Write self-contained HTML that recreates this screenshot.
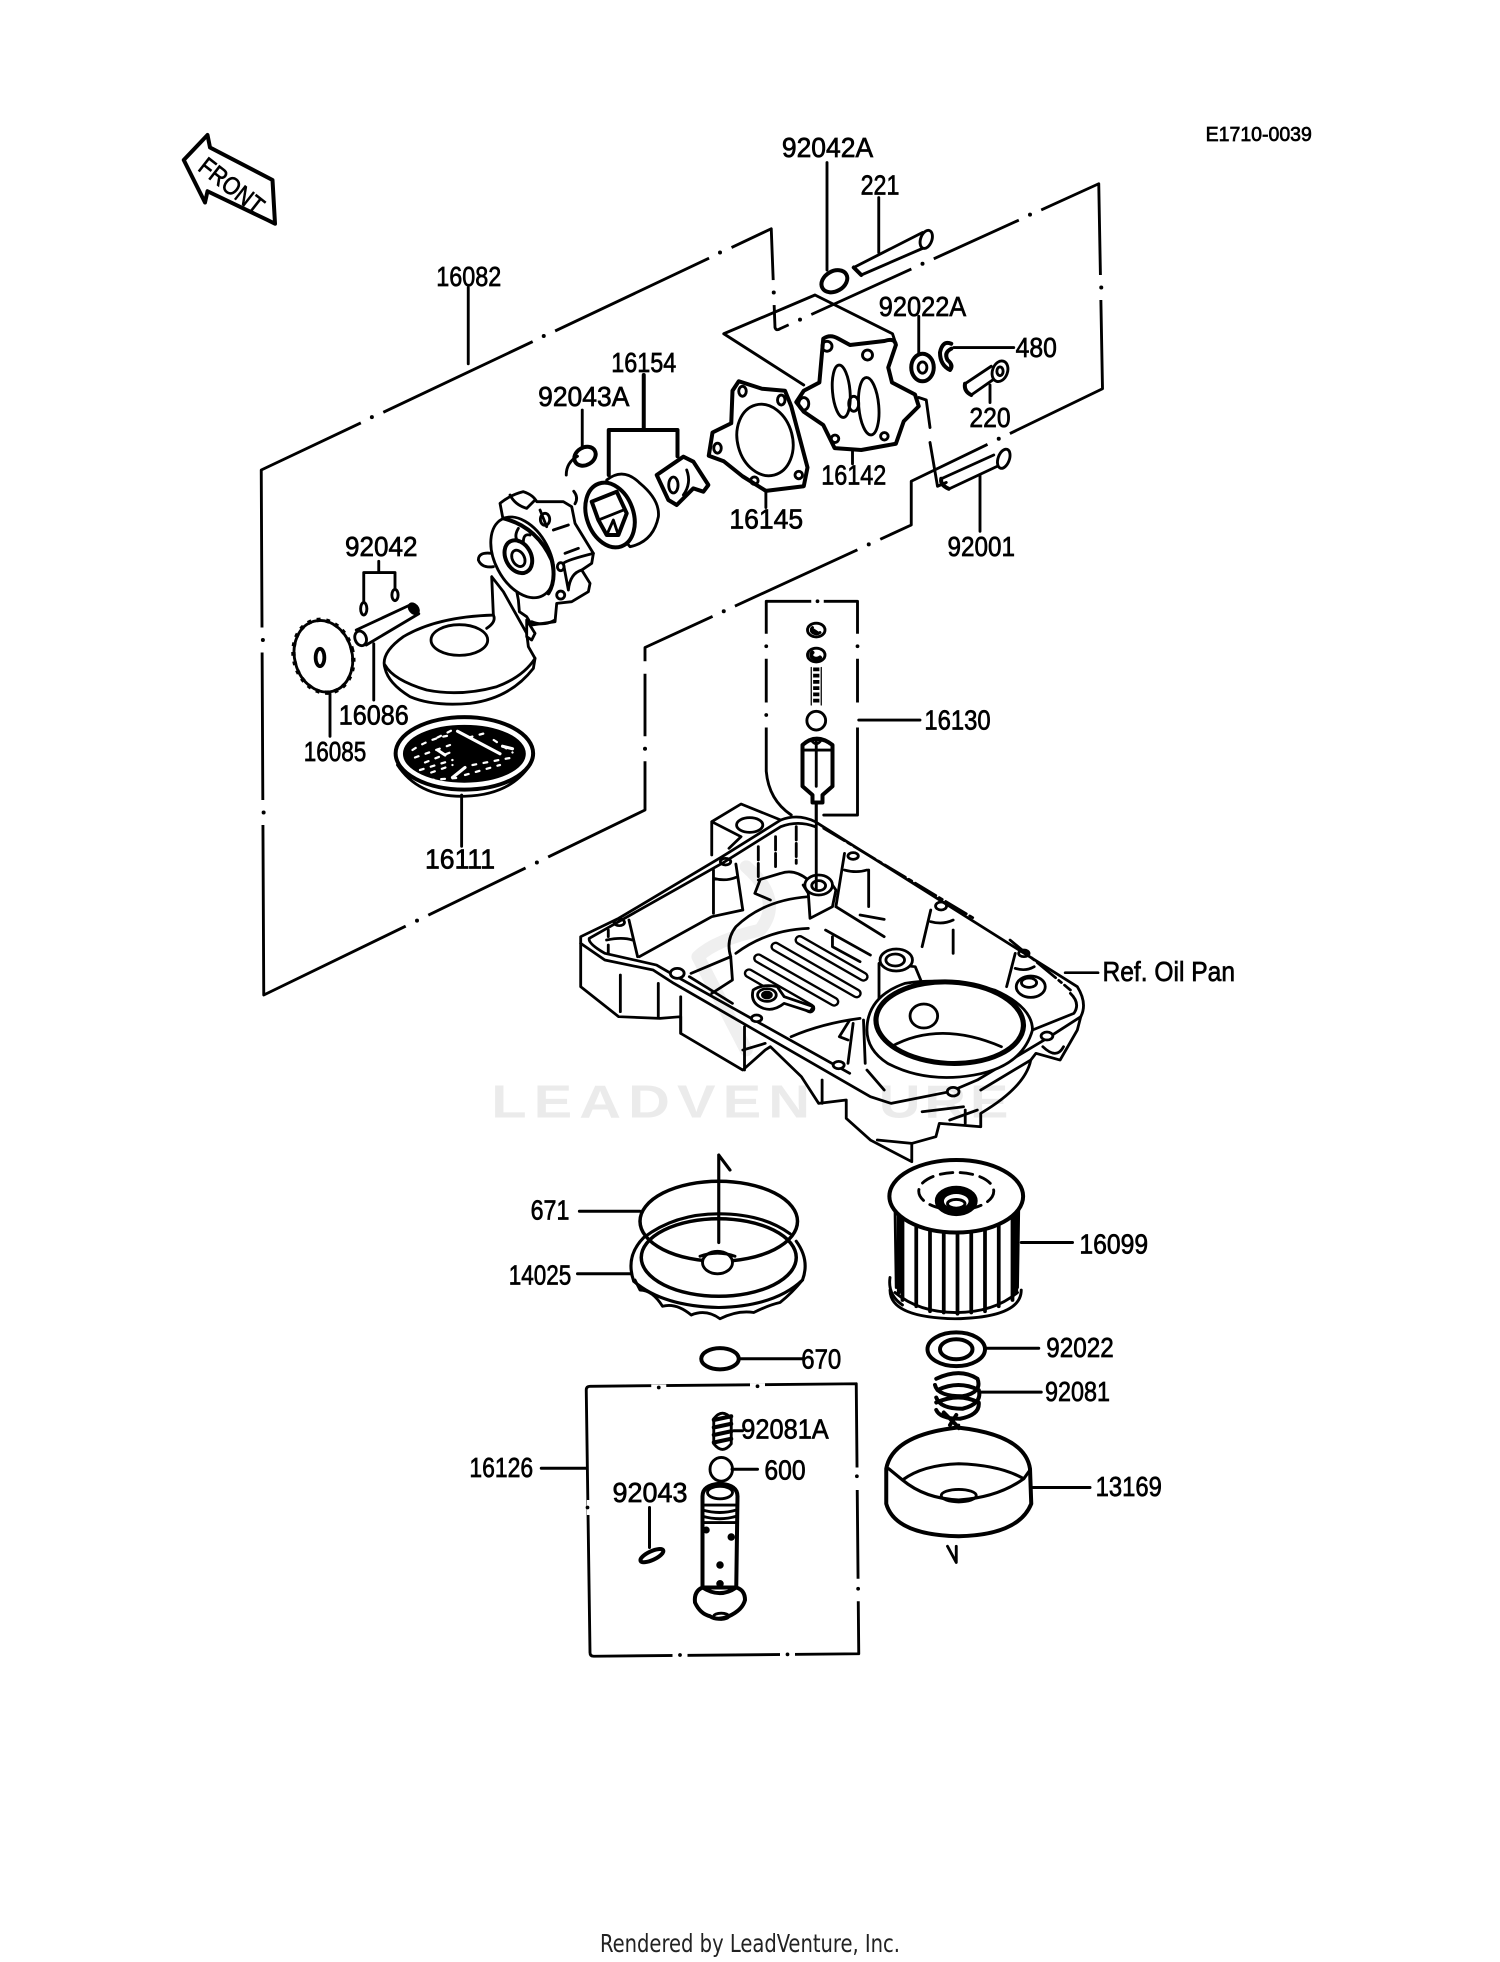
<!DOCTYPE html>
<html><head><meta charset="utf-8"><title>Oil Pump Diagram</title>
<style>
html,body{margin:0;padding:0;background:#fff;width:1500px;height:1962px;overflow:hidden}
svg{display:block}
path,line,ellipse,circle,polyline,polygon{fill:none;stroke:#000;stroke-width:2.3;stroke-linecap:round;stroke-linejoin:round}
.f{fill:#fff}
.k{fill:#000}
.t{stroke-width:3.2}
.w{stroke:#fff;stroke-width:5;stroke-linecap:butt}
.d{fill:#000;stroke:none}
text{font-family:"Liberation Sans",sans-serif;font-size:22px;fill:#000;stroke:#000;stroke-width:.55;text-anchor:middle;dominant-baseline:central}
.pan path,.pan ellipse,.pan line{stroke-width:8.2}
.pan .t{stroke-width:15}
.slot{stroke-width:30!important}
.sloti{stroke:#fff;stroke-width:16!important}
.z path,.z ellipse{stroke-width:8.5}
.z .t{stroke-width:12}
.wm{font-weight:bold;font-size:37px;fill:#ebebeb;stroke:none;mix-blend-mode:multiply;text-anchor:start;dominant-baseline:auto}
.ft{font-family:"DejaVu Sans Condensed","DejaVu Sans",sans-serif;font-size:20px;fill:#222;stroke:none;text-anchor:start;dominant-baseline:auto}
</style></head><body>
<svg xmlns="http://www.w3.org/2000/svg" width="1500" height="1962" viewBox="0 0 1200 1569.6">
<rect width="1200" height="1569.6" fill="#fff"/>

<!-- frame -->
<path d="M211,796 L209,376 L617,183 L620,262 Q621,265 624,263 L879,147 L882,311 L729,385 L729,420 L516,518 L516,648 Z"/>
<path class="w" d="M288.500,338 L306.500,329.500 M426,273 L444,264.500 M567,206 L585,197.500"/>
<circle class="d" cx="297.500" cy="333.700" r="1.600"/><circle class="d" cx="435" cy="268.800" r="1.600"/><circle class="d" cx="576" cy="202" r="1.600"/>
<path class="w" d="M631,260 L649,251.500 M729,215 L747,207 M815,176 L833,168"/>
<circle class="d" cx="640" cy="255.700" r="1.600"/><circle class="d" cx="738" cy="211" r="1.600"/><circle class="d" cx="824" cy="171.700" r="1.600"/>
<path class="w" d="M881,220 L881,240 M618.800,224 L619.200,244 M516,589 L516,609 M516,539 L516,529"/>
<circle class="d" cx="881" cy="230" r="1.600"/><circle class="d" cx="619" cy="234" r="1.600"/><circle class="d" cx="516" cy="599" r="1.600"/>
<path class="w" d="M790,355.500 L808,347 M686,440 L704,431 M570,493 L588,485"/>
<circle class="d" cx="799" cy="351" r="1.600"/><circle class="d" cx="695" cy="435.500" r="1.600"/><circle class="d" cx="579" cy="489" r="1.600"/>
<path class="w" d="M420.500,694.500 L438.500,685.500 M324.600,741 L342.600,732"/>
<circle class="d" cx="429.500" cy="690" r="1.600"/><circle class="d" cx="333.600" cy="736.500" r="1.600"/>
<path class="w" d="M210.300,502 L210.300,522 M210.900,640 L210.900,660"/>
<circle class="d" cx="210.300" cy="512" r="1.600"/><circle class="d" cx="210.900" cy="650" r="1.600"/>

<!-- box 16130 -->
<path d="M613,481 L686,481 L686,652 L659,652 M613,481 L613,617 Q615,640 633,652"/>
<path class="w" d="M613,507 L613,527 M613,562 L613,582 M686,507 L686,527 M686,562 L686,582 M649,481 L659,481"/>
<circle class="d" cx="613" cy="517" r="1.500"/><circle class="d" cx="613" cy="572" r="1.500"/><circle class="d" cx="686" cy="517" r="1.500"/><circle class="d" cx="654" cy="481" r="1.500"/>

<!-- box 16126 -->
<path d="M469,1112 Q469,1109 472,1109 L685,1107 L687,1323 L475,1325 Q472,1325 472,1322 Z"/>
<path class="w" d="M521,1110 L533,1110 M600,1109 L612,1109 M685.500,1174 L685.500,1192 M686.500,1263 L686.500,1281 M472,1200 L472,1212 M538,1324 L550,1324 M624,1323.500 L636,1323.500"/>
<circle class="d" cx="527" cy="1110" r="1.500"/><circle class="d" cx="606" cy="1109" r="1.500"/><circle class="d" cx="685.500" cy="1181" r="1.500"/><circle class="d" cx="686.500" cy="1271" r="1.500"/><circle class="d" cx="470" cy="1206" r="1.500"/><circle class="d" cx="544" cy="1324" r="1.500"/><circle class="d" cx="630" cy="1323.500" r="1.500"/>

<!-- FRONT arrow -->
<path class="t" d="M147,128 L166,108 L168,118 L218,144 L220,179 L214,176 L166,153 L164,162 Z"/>
<text transform="translate(185,149) rotate(38)" style="font-size:20px" textLength="60" lengthAdjust="spacingAndGlyphs">FRONT</text>

<!-- leaders top -->
<path d="M661.600,130 L661.600,216 M703,158 L703,202 M374.600,230 L374.600,291 M735,253 L735,283 M763,278 L811,278 M792,308 L792,322 M682,357 L682,371 M612.700,394 L612.700,406 M784,380 L784,425 M465.800,328 L465.800,358 M299,515 L299,560 M264,555 L264,589 M369.300,636 L369.300,677 M687,576 L736,576"/>
<path class="t" d="M515,300 L515,343 M487,344 L542,344 M487,344 L487,380 M542,344 L542,365"/>
<path d="M303,449 L303,458 M291,458 L316,458 M291,458 L291,481 M316,458 L316,471"/>
<ellipse cx="291" cy="487" rx="2.500" ry="5"/><ellipse cx="316" cy="476" rx="2.500" ry="4.500"/>

<!-- bolt 221 and dowel -->
<path d="M683,214 L738,186 M689,220 L742,197"/>
<ellipse class="f" cx="741" cy="191.500" rx="4.500" ry="7.500" transform="rotate(20 741 191.500)"/>
<ellipse class="f t" cx="667.500" cy="225" rx="11" ry="8" transform="rotate(-30 667.500 225)"/>
<path class="t" d="M683,214 L689,220"/>

<!-- diamond -->
<path d="M643,308 L579,267 L652,236 L714,267 L717,276"/>
<path d="M735,318 L741,320 L744,342 M744,354 L750,389 L757,386"/>

<!-- cover 16142 -->
<path class="f t" d="M658.600,271 Q664,267 670.800,271 L680,276 L707.500,272.800 Q716,270 716.700,276 L710.600,294 L713.600,306 L732,315.600 L735,325 L723,337 L716.700,355 L689,360 L667.700,358.500 L658.600,340 L643,329.400 L637,321.700 L643,312.600 L655.500,306 Z"/>
<ellipse cx="673" cy="313" rx="7" ry="21" transform="rotate(-5 673 313)"/>
<ellipse cx="695" cy="325" rx="8" ry="23" transform="rotate(-5 695 325)"/>
<ellipse cx="683" cy="323" rx="4" ry="6"/>
<ellipse cx="661.600" cy="277" rx="4" ry="4"/><ellipse cx="694" cy="284" rx="4" ry="4"/><ellipse cx="643" cy="323" rx="4" ry="5"/><ellipse cx="668" cy="351" rx="3" ry="3"/><ellipse cx="707.500" cy="349" rx="3" ry="3"/>

<!-- gasket 16145 -->
<path class="f t" d="M591,305 L609.600,311 L628,312.600 L633,325 L646,374 L643,389 L612.700,392.700 L594,381 L579,369 L567,364.600 L570,346 L585,338.600 L586,312.600 Z"/>
<ellipse cx="612" cy="352" rx="22" ry="29" transform="rotate(-15 612 352)"/>
<ellipse cx="594" cy="313" rx="3" ry="4"/><ellipse cx="625" cy="320" rx="3" ry="4"/><ellipse cx="574" cy="358.500" rx="3" ry="4"/><ellipse cx="603.500" cy="384.500" rx="3" ry="3"/><ellipse cx="639" cy="380" rx="3" ry="3"/>

<!-- washer, clip, bolts -->
<ellipse class="t" cx="738" cy="294" rx="9" ry="11"/><ellipse cx="738" cy="294" rx="3.500" ry="4.500"/>
<path class="t" d="M761,275 Q754,272 752,282 Q752,292 760,296 Q763,292 758,288 Q755,282 761,279"/>
<path d="M772,307 L793,293 M777,316 L797,302"/><ellipse class="f" cx="800" cy="297" rx="6" ry="8.500" transform="rotate(20 800 297)"/><ellipse cx="800" cy="297" rx="2.500" ry="3.500"/><path class="t" d="M772,307 Q771,313 777,316"/>
<path d="M753,383 L795,364 M759.500,391 L800,372"/><ellipse class="f" cx="803" cy="367" rx="4.500" ry="8" transform="rotate(20 803 367)"/><path class="t" d="M753,383 Q752,388 759,391"/>

<!-- oil pickup, pump, rotor drawn in zoomed coords -->
<g class="z" transform="translate(216,336) scale(.2667)">
<!-- pickup -->
<path class="f" d="M665,470 L670,585 Q500,590 400,650 Q330,700 345,745 Q355,790 420,830 Q490,860 600,850 Q720,835 790,745 L795,715 L775,680 L770,640 L700,515 Z"/>
<path d="M345,735 Q370,780 470,810 Q570,830 680,800 Q760,770 795,715"/>
<path d="M670,585 Q680,605 650,625"/>
<ellipse class="f" cx="568" cy="660" rx="85" ry="46"/>
<path class="f" d="M770,600 L795,640 L785,660 L770,650 Z"/>
<!-- lug -->
<path class="f" d="M665,400 Q625,395 625,420 Q635,445 670,440"/>
<!-- body -->
<path class="f" d="M690,250 Q720,225 760,215 Q790,225 800,245 L880,245 L905,260 L915,310 L970,400 L965,430 L935,450 L960,490 L955,515 L905,545 L860,550 L855,605 L785,615 L770,590 L748,575 L745,540 Z"/>
<path d="M720,225 Q735,255 770,265 L795,240 M810,270 L830,320 M850,330 L895,315 M885,400 L925,385 M880,430 Q890,420 970,400 M895,510 Q900,460 935,450 M880,430 L895,510 M785,605 Q820,620 855,600"/>
<ellipse cx="825" cy="298" rx="14" ry="18"/><ellipse cx="872" cy="525" rx="12" ry="12"/><ellipse cx="872" cy="440" rx="10" ry="12"/>
<!-- plate -->
<ellipse class="f" cx="757" cy="412" rx="82" ry="130" transform="rotate(-28 757 412)"/>
<path class="t" d="M700,295 Q800,320 845,420 Q860,480 835,520"/>
<ellipse class="f t" cx="745" cy="410" rx="38" ry="52" transform="rotate(-28 745 410)"/>
<ellipse cx="745" cy="415" rx="18" ry="26" transform="rotate(-28 745 415)"/>
<path d="M745,325 Q730,350 745,365 M780,345 Q760,340 760,365"/>
<!-- rotor -->
<path class="f" d="M1010,180 Q1060,140 1110,190 Q1170,240 1165,290 Q1150,365 1080,380 L1010,300 Z"/>
<ellipse class="f t" cx="1020" cy="285" rx="70" ry="100" transform="rotate(-20 1020 285)"/>
<path class="t" d="M965,245 L1040,215 L1070,280 L1045,345 L1010,345 L985,300 Z"/>
<path d="M985,300 L1060,270 M1010,345 L1030,300 L1045,345"/>
<!-- inner rotor -->
<path class="f t" d="M1160,165 L1240,110 L1270,125 L1315,195 L1300,215 L1270,205 L1220,255 L1195,240 Z"/>
<ellipse cx="1210" cy="195" rx="14" ry="24"/>
<path d="M1250,150 Q1265,190 1240,225"/>
</g>

<!-- 92043A dowel -->
<ellipse class="f t" cx="468" cy="365" rx="9" ry="7" transform="rotate(-30 468 365)"/>
<path d="M462,365 Q453,370 453,380 M459,393 Q463,398 460,403"/>

<!-- gear and pin -->
<ellipse class="f" cx="258.700" cy="525" rx="23" ry="29" transform="rotate(-15 258.700 525)"/>
<ellipse cx="258.700" cy="525" rx="23.500" ry="29.500" transform="rotate(-15 258.700 525)" style="stroke-width:3.500;stroke-dasharray:3 4.500;stroke-linecap:butt"/>
<ellipse cx="256" cy="526" rx="3.500" ry="7" style="stroke-width:3"/>
<path d="M285,504 L328,484 L335,491 L293,516"/>
<ellipse class="f" cx="288.500" cy="510.700" rx="4.500" ry="6" transform="rotate(-20 288.500 510.700)"/>
<ellipse class="k" cx="331" cy="487" rx="3" ry="4.500" transform="rotate(-40 331 487)"/>

<!-- screen 16111 -->
<ellipse class="f t" cx="371.500" cy="602.700" rx="55" ry="29"/>
<path d="M318,612 Q335,638 372,637 Q408,636 424,612"/>
<ellipse class="k" cx="371.500" cy="603" rx="48" ry="22"/>
<path style="stroke:#fff;stroke-width:1.800;stroke-dasharray:3 6" d="M330,600 Q345,590 362,588 M332,606 L360,596 M340,610 L360,602 M336,616 L362,608 M345,618 L362,612 M372,620 L400,612 M378,612 L410,606 M395,592 L410,602 M375,590 L390,586 M350,590 L362,584 M344,624 L370,622"/>
<path style="stroke:#fff;stroke-width:2.500" d="M366,585 L400,603 M350,600 L356,604 M362,622 L372,614 M402,597 L410,599"/>

<!-- 16130 parts -->
<ellipse cx="653" cy="504" rx="7" ry="5.500"/><path class="k" d="M650,502 A4,3 0 0 0 656,506"/>
<ellipse cx="653" cy="524" rx="7" ry="5.500"/><path class="t" d="M650,522 A4,3 0 0 0 656,526"/>
<path style="stroke-width:5;stroke-dasharray:3 2;stroke-linecap:butt" d="M653,534 L653,564"/><path style="stroke-width:1" d="M649,534 L649,564 M657,534 L657,564"/>
<ellipse cx="653" cy="576.500" rx="7.500" ry="7.500"/>
<path class="t" d="M642,596 Q653,586 666,596 L666,629 L658,636 L658,642 L650,642 L650,636 L642,629 Z"/>
<path d="M653,592 L653,629 M642,600 L666,600 M649,592 Q653,598 657,592"/>
<path d="M653,642 L653,712"/>

<!-- oil pan -->
<g class="pan" transform="translate(448,632) scale(.2759,.2667)">
<path class="f" d="M60,440 L170,385 L470,200 L640,90 Q690,70 740,95 L1500,590 Q1530,640 1510,680 L1500,720 L1450,810 L1380,790 L1365,810 Q1350,890 1220,970 L1220,1010 L1100,1000 L1090,1040 L1020,1060 L1020,1115 L900,1050 L830,985 L830,930 L750,940 L700,860 L610,770 L595,780 L530,840 L350,730 L350,680 L290,685 L170,680 L60,590 Z"/>
<path d="M440,195 L440,95 L525,42 L640,90 M440,95 L525,140 L490,175"/>
<ellipse cx="550" cy="105" rx="38" ry="22"/>
<path d="M60,460 L130,510 L270,540 L330,580 L900,920 L960,940 L1130,905 L1210,870 L1420,740 L1510,680"/>
<path d="M85,445 L170,395 L470,220 L640,110 Q690,90 740,110 M85,445 Q80,460 130,490 L280,525 L330,555 L840,850 M1480,610 Q1510,640 1490,670 L1370,720"/>
<path d="M765,115 L1200,385 M1305,450 L1480,600" style="stroke-dasharray:70 12 10 12"/>
<path d="M175,555 L175,665 M285,580 L285,680 M350,620 L350,730 M535,710 L535,840 M595,760 L530,780"/>
<path d="M230,500 L440,380 L530,360 M380,550 L495,500 L500,570 L440,610 M375,560 L500,640 M800,350 L940,440 M870,375 L940,388"/>
<path d="M685,110 L685,220 M625,140 L625,240 M575,170 L575,260" style="stroke-dasharray:40 10"/>
<path d="M575,270 L640,250 Q680,235 720,270"/>
<ellipse cx="480" cy="215" rx="15" ry="10"/><ellipse cx="850" cy="198" rx="15" ry="10"/><ellipse cx="1105" cy="348" rx="16" ry="12"/><ellipse cx="1345" cy="490" rx="15" ry="10"/><ellipse cx="172" cy="397" rx="15" ry="10"/>
<path d="M510,222 L530,360 M445,240 L445,370 M445,265 Q480,275 510,262 M825,190 L800,350 M825,240 Q860,250 890,240 M895,240 L895,350 M1075,360 L1050,470 M1075,395 Q1110,405 1140,390 M1140,420 L1140,490 M1320,490 L1295,590 M1320,535 Q1350,545 1375,530 M200,390 L225,500 M140,420 L140,440 M135,450 Q180,440 210,450 M140,465 L140,490"/>
<!-- center pillar -->
<path class="f" d="M705,285 L720,310 L725,385 L790,350 L800,300 L790,285 Z"/>
<ellipse class="f" cx="750" cy="285" rx="40" ry="30"/><ellipse cx="750" cy="287" rx="20" ry="15"/>
<path d="M720,320 Q590,330 510,410 Q480,450 495,500 M720,415 Q600,420 510,490 M565,310 L580,270 M565,310 L610,330"/>
<!-- slots -->
<g>
<path class="slot" d="M625,470 L860,610"/><path class="sloti" d="M625,470 L860,610"/>
<path class="slot" d="M575,505 L795,635"/><path class="sloti" d="M575,505 L795,635"/>
<path class="slot" d="M548,550 L725,655"/><path class="sloti" d="M548,550 L725,655"/>
<path class="slot" d="M695,450 L880,560"/><path class="sloti" d="M695,450 L880,560"/>
<path d="M790,440 L790,470 L870,515 M770,420 L900,495" />
</g>
<path class="f" d="M560,600 Q590,580 630,590 L650,620 L735,650 L725,665 L650,640 Q620,665 590,655 Q550,640 560,600 Z"/>
<ellipse cx="600" cy="615" rx="27" ry="19"/><ellipse class="k" cx="600" cy="615" rx="13" ry="9"/>
<!-- post bolts -->
<path class="f" d="M925,520 L925,630 L1050,580 L1030,530 Z"/>
<ellipse class="f" cx="975" cy="510" rx="47" ry="33"/><ellipse cx="972" cy="510" rx="27" ry="18"/>
<ellipse class="f" cx="1365" cy="590" rx="42" ry="32"/><ellipse cx="1360" cy="578" rx="22" ry="14"/>
<!-- ring -->
<path class="f" d="M890,720 Q890,620 1000,580 Q1120,560 1260,600 Q1370,650 1370,720 Q1340,830 1200,855 Q1060,880 950,820 Q890,780 890,720 Z"/>
<ellipse class="t" cx="1130" cy="698" rx="214" ry="122" transform="rotate(3 1130 698)"/>
<path d="M960,770 Q1100,690 1280,770"/>
<ellipse cx="1055" cy="678" rx="40" ry="36"/>
<path d="M670,740 Q760,700 870,685 M840,690 L810,740 L835,750 M850,700 L835,820 M880,690 L885,820 M760,870 L760,940 M890,840 L940,900 M1050,965 L1170,950 M1130,990 L1210,960 M1175,960 L1175,1000 M1365,810 L1220,900 M1400,770 Q1440,810 1460,770 M920,1050 L1020,1060"/>
<ellipse class="f" cx="340" cy="550" rx="20" ry="15"/><ellipse class="f" cx="570" cy="685" rx="15" ry="10"/><ellipse class="f" cx="808" cy="825" rx="16" ry="11"/><ellipse class="f" cx="1140" cy="905" rx="17" ry="13"/><ellipse class="f" cx="1412" cy="738" rx="17" ry="12"/>
<path d="M1465,548 L1560,548"/>
<!-- faint watermark emblem -->
<path style="stroke:#efefef;stroke-width:38;mix-blend-mode:multiply" d="M540,230 Q650,330 580,420 Q450,450 400,500 L540,780"/>
</g>
<path d="M653,642 L653,712"/>
<text class="wm" transform="translate(393,894) scale(1.25,1)" x="0" y="0" textLength="204" lengthAdjust="spacing">LEADVEN</text>
<text class="wm" transform="translate(703,894) scale(1.25,1)" x="0" y="0" textLength="83" lengthAdjust="spacing">URE</text>

<!-- filter cap -->
<ellipse cx="575" cy="977" rx="63" ry="32" style="stroke-width:2.800"/>
<ellipse cx="575" cy="1006" rx="62" ry="31" style="stroke-width:2.800"/>
<path style="stroke-width:2.500" d="M507,1025 Q500,1005 515,990 Q540,971 575,971 Q610,971 632,987 M637,993 Q648,1008 642,1024 M507,1025 Q530,1045 575,1046 Q620,1045 642,1024"/>
<path d="M508,1024 L512,1032 Q522,1032 530,1045 Q541,1042 553,1052 Q565,1047 576,1055 Q590,1048 603,1050 Q615,1044 624,1042 Q634,1034 642,1024"/>
<ellipse class="f" cx="574" cy="1010" rx="12" ry="9"/>
<path d="M560,1005 Q574,1000 588,1005"/>
<path style="stroke-width:2.500" d="M575,924 L575,994 M575,924 L584,936"/>

<!-- filter 16099 -->
<path d="M712,1032 Q712,1054 764,1055 Q817,1054 817,1032 M716,965 L717,1030 M815,965 L814,1030"/>
<path d="M712,1022 Q710,1036 722,1044"/>
<path style="stroke-width:3" d="M722,974 L722,1040 M733,980 L733,1045 M744,984 L744,1049 M755,985 L755,1050 M766,986 L766,1051 M777,985 L777,1050 M788,983 L788,1049 M799,979 L799,1045 M810,973 L810,1040 M719,970 L719,1034 M813,970 L813,1034"/>
<path d="M716,1034 Q735,1050 765,1050 Q795,1050 814,1034"/>
<ellipse class="f t" cx="765" cy="957" rx="53.500" ry="29"/>
<ellipse cx="765" cy="953" rx="30" ry="15" style="stroke-dasharray:10 6"/>
<ellipse class="k" cx="765" cy="960.700" rx="16" ry="11"/><ellipse class="f" cx="765" cy="961" rx="11" ry="7"/><ellipse cx="765" cy="963" rx="7" ry="3.500"/>

<!-- 92022, spring, cup -->
<ellipse class="t" cx="765" cy="1079.400" rx="23" ry="13.500"/><ellipse class="t" cx="765" cy="1079.400" rx="13" ry="8"/>
<path class="t" d="M749,1103 Q768,1094 782,1103 Q786,1114 770,1117 Q750,1117 748,1108 M750,1112 Q767,1104 783,1112 Q786,1123 770,1127 Q752,1127 749,1118 M749,1122 Q767,1114 783,1122 Q784,1132 768,1135 Q752,1135 749,1128 M755,1130 L765,1140 M765,1132 L760,1140"/>
<path class="t" d="M709,1175 Q714,1148 766,1142 Q820,1148 824,1175 L825,1203 Q815,1228 767,1229 Q716,1228 709,1203 Z"/>
<path style="stroke-width:2.500" d="M711,1175 L722,1184 Q738,1172 767,1171 Q800,1172 819,1183 L824,1176 M722,1184 Q740,1199 767,1200 Q798,1198 819,1183"/>
<ellipse cx="767" cy="1196.500" rx="14" ry="5"/>
<path d="M767,1140 L767,1143 M758,1237 L765,1250 L765,1237"/>

<!-- leaders bottom -->
<path style="stroke-width:2.400" d="M817,994 L858,994 M463.500,969 L512,969 M462,1019 L504.600,1019 M433,1174.600 L469,1174.600 M592,1087 L642,1087 M788.400,1078.600 L831,1078.600 M785,1113.700 L833,1113.700 M826,1190 L872,1190 M587,1144.600 L594,1144.600 M585.600,1175.400 L606,1175.400 M519.600,1206 L519.600,1238"/>
<ellipse class="t" cx="576" cy="1087" rx="15" ry="8.500"/>

<!-- 92081A spring, ball, valve, pin -->
<path d="M571,1135 Q578,1126 585,1135 L585,1155 Q578,1164 571,1155 Z"/>
<path class="t" d="M571,1136 L585,1133 M571,1142 L585,1139 M571,1148 L585,1145 M571,1154 L585,1151"/>
<ellipse cx="577" cy="1175.400" rx="9" ry="9.500"/>
<path class="t" d="M562,1197 Q562,1188 576,1187 Q590,1188 590,1197 L589,1270 L562,1270 Z"/>
<ellipse cx="576" cy="1194" rx="10" ry="5"/>
<path d="M562,1204 L589,1204 M562,1208 Q576,1212 589,1208 M562,1213 Q576,1217 589,1213 M562,1218 L589,1218"/>
<circle class="d" cx="565" cy="1224" r="2.800"/><circle class="d" cx="585" cy="1229.600" r="3"/><circle class="d" cx="576" cy="1252" r="3"/><circle class="d" cx="576" cy="1267" r="3"/>
<path class="f t" d="M562,1270 Q555,1273 556,1282 Q560,1291 568,1293 Q574,1297 583,1293 Q594,1288 596,1280 Q596,1272 589,1270 Q576,1279 562,1270 Z"/>
<ellipse cx="577" cy="1293" rx="6" ry="2.500"/>
<ellipse class="t" cx="521.500" cy="1244.500" rx="10" ry="3.500" transform="rotate(-25 521.500 1244.500)"/>

<!-- labels -->
<text x="1007" y="108" style="font-size:16px" textLength="85" lengthAdjust="spacingAndGlyphs">E1710-0039</text>
<text x="662" y="118" textLength="73" lengthAdjust="spacingAndGlyphs">92042A</text>
<text x="704" y="148" textLength="31" lengthAdjust="spacingAndGlyphs">221</text>
<text x="375" y="221" textLength="52" lengthAdjust="spacingAndGlyphs">16082</text>
<text x="738" y="245" textLength="70" lengthAdjust="spacingAndGlyphs">92022A</text>
<text x="829" y="278" textLength="33" lengthAdjust="spacingAndGlyphs">480</text>
<text x="515" y="290" textLength="52" lengthAdjust="spacingAndGlyphs">16154</text>
<text x="792" y="334" textLength="33" lengthAdjust="spacingAndGlyphs">220</text>
<text x="467" y="317" textLength="73" lengthAdjust="spacingAndGlyphs">92043A</text>
<text x="683" y="380" textLength="52" lengthAdjust="spacingAndGlyphs">16142</text>
<text x="613" y="415" textLength="59" lengthAdjust="spacingAndGlyphs">16145</text>
<text x="785" y="437" textLength="54" lengthAdjust="spacingAndGlyphs">92001</text>
<text x="305" y="437" textLength="58" lengthAdjust="spacingAndGlyphs">92042</text>
<text x="299" y="572" textLength="56" lengthAdjust="spacingAndGlyphs">16086</text>
<text x="268" y="601" textLength="50" lengthAdjust="spacingAndGlyphs">16085</text>
<text x="766" y="576" textLength="53" lengthAdjust="spacingAndGlyphs">16130</text>
<text x="368" y="687" textLength="56" lengthAdjust="spacingAndGlyphs">16111</text>
<text x="935" y="777" textLength="106" lengthAdjust="spacingAndGlyphs">Ref. Oil Pan</text>
<text x="440" y="968" textLength="31" lengthAdjust="spacingAndGlyphs">671</text>
<text x="432" y="1020" textLength="50" lengthAdjust="spacingAndGlyphs">14025</text>
<text x="891" y="995" textLength="55" lengthAdjust="spacingAndGlyphs">16099</text>
<text x="657" y="1087" textLength="32" lengthAdjust="spacingAndGlyphs">670</text>
<text x="864" y="1078" textLength="54" lengthAdjust="spacingAndGlyphs">92022</text>
<text x="862" y="1113" textLength="52" lengthAdjust="spacingAndGlyphs">92081</text>
<text x="628" y="1143" textLength="70" lengthAdjust="spacingAndGlyphs">92081A</text>
<text x="628" y="1176" textLength="33" lengthAdjust="spacingAndGlyphs">600</text>
<text x="401" y="1174" textLength="51" lengthAdjust="spacingAndGlyphs">16126</text>
<text x="520" y="1194" textLength="60" lengthAdjust="spacingAndGlyphs">92043</text>
<text x="903" y="1189" textLength="53" lengthAdjust="spacingAndGlyphs">13169</text>

<text class="ft" x="480" y="1561.500" textLength="240" lengthAdjust="spacingAndGlyphs">Rendered by LeadVenture, Inc.</text>
</svg>
</body></html>
